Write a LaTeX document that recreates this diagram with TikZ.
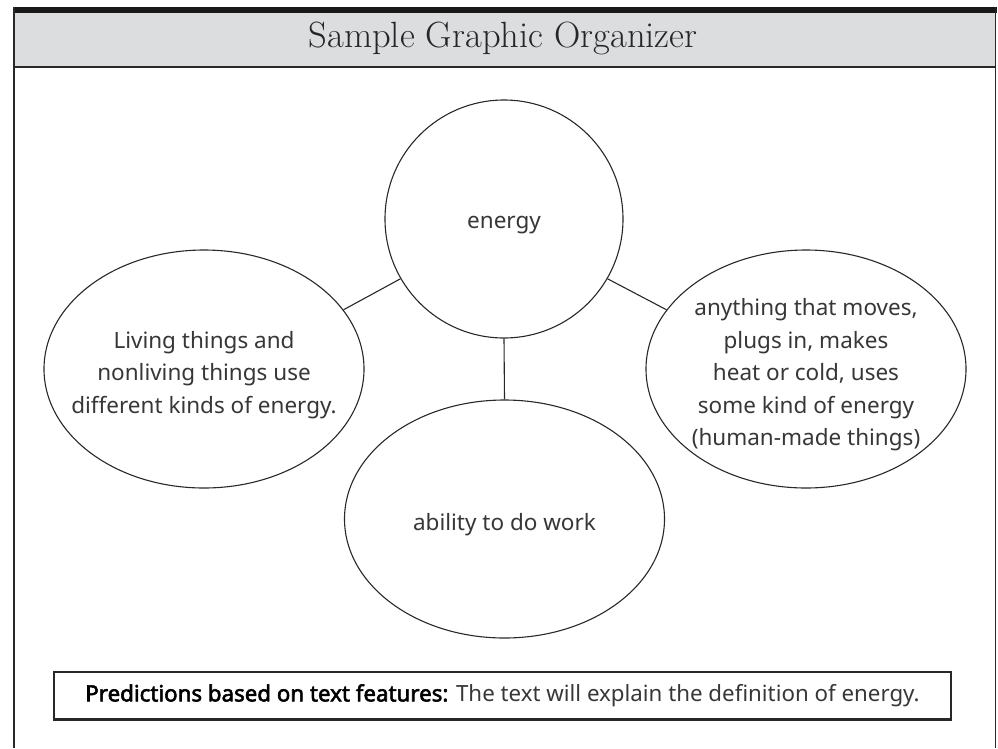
\documentclass[tikz,border=0pt]{standalone}
\usepackage{fontspec}
\setmainfont{Latin Modern Roman}
\newfontfamily\handfont{Noto Sans}
\newfontfamily\handbold{Noto Sans}[FakeBold=2.5]
\usetikzlibrary{shapes.geometric}
\definecolor{hdrgray}{RGB}{220,221,223}
\definecolor{txtgray}{RGB}{55,55,55}
\definecolor{framegray}{RGB}{40,40,40}
\begin{document}
\begin{tikzpicture}[x=1pt,y=-1pt,
  bubble/.style={draw=framegray, line width=1.1pt, fill=white, inner sep=0pt},
  bubtext/.style={text=txtgray, font=\handfont\fontsize{22.5}{32.5}\selectfont, align=center,
    inner sep=0pt, yshift=-6pt},
  hub/.style={bubble, circle, minimum size=238pt},
  oval/.style={bubble, ellipse, minimum width=320pt, minimum height=238pt},
  link/.style={draw=framegray, line width=1.1pt},
  border/.style={draw=framegray, line width=1.8pt}]
\useasboundingbox (0,0) rectangle (998,748);
% frame and header
\fill[hdrgray] (14,12.5) rectangle (995.5,66);
\fill[black!90] (14,6.5) rectangle (997,12.5);
\draw[framegray, line width=1.6pt] (14,66.7) -- (995.5,66.7);
\draw[border] (14,6.5) -- (14,748);
\draw[border] (995.5,6.5) -- (995.5,748);
\node[text=black!85, font=\fontsize{36.5}{40}\selectfont] (title) at (503,38) {Sample Graphic Organizer};
% bubbles
\node[hub, label={[bubtext]center:energy}] (c) at (504,219) {};
\node[oval, label={[bubtext]center:{Living things and\\nonliving things use\\different kinds of energy.}}] (l) at (204,369) {};
\node[oval, label={[bubtext]center:{anything that moves,\\plugs in, makes\\heat or cold, uses\\some kind of energy\\(human-made things)}}] (r) at (806,369) {};
\node[oval, label={[bubtext]center:ability to do work}] (b) at (504.5,519) {};
\draw[link] (c.210) -- (l.23);
\draw[link] (c.330) -- (r.157);
\draw[link] (c.south) -- (b.north);
% predictions box
\node[draw=framegray, line width=1.1pt, minimum width=897pt, minimum height=47pt, inner sep=0pt,
  font=\handfont\fontsize{22.3}{25}\selectfont, text=txtgray] (pred) at (502.5,695.5)
  {{\handbold\color{black}Predictions based on text features:} The text will explain the definition of energy.};
\draw[framegray, line width=2pt] (pred.south west) -- (pred.south east);
\end{tikzpicture}
\end{document}
